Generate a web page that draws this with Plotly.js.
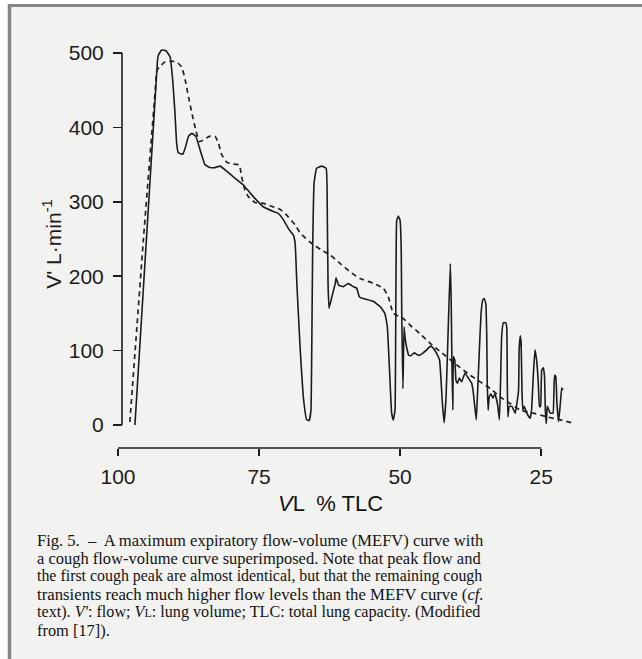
<!DOCTYPE html>
<html>
<head>
<meta charset="utf-8">
<script src="https://cdn.plot.ly/plotly-3.0.1.min.js"></script>
<style>html,body{margin:0;padding:0;background:#fff;}#chart{width:642px;height:659px;}</style>
</head>
<body>
<div id="chart"></div>
<script>
// Cough flow-volume curve (solid): lung volume (% TLC) and flow (L/min)
var coughVolume = [97.0,93.0,92.85,92.26,91.49,90.78,90.3,89.9,89.6,89.3,88.5,88.1,87.5,86.93,86.2,85.46,84.6,83.7,82.8,81.9,80.7,79.3,77.8,76.6,75.4,74.2,72.45,71.6,70.7,69.8,68.9,68.6,68.3,67.7,67.1,66.55,66.1,65.8,65.66,65.5,65.25,64.8,63.9,63.1,62.9,62.77,62.6,62.1,61.5,61.35,60.9,60.05,59.2,58.3,57.7,57.2,56.5,54.7,53.5,52.7,52.26,51.9,51.5,51.2,50.9,50.8,50.7,50.6,50.3,50.0,49.8,49.7,49.5,49.3,49.1,48.8,48.5,48.1,47.5,46.75,46.0,45.3,44.6,44.1,43.5,43.0,42.5,42.2,41.85,41.5,41.1,40.95,40.8,40.65,40.55,40.3,40.1,39.85,39.5,39.1,38.5,37.9,37.3,37.0,36.5,36.3,35.95,35.65,35.35,35.1,34.8,34.65,34.55,34.4,34.2,33.9,33.55,33.2,32.75,32.4,32.2,32.0,31.7,31.3,31.1,31.0,30.9,30.65,30.2,29.6,29.3,29.0,28.9,28.7,28.55,28.4,28.25,28.0,27.55,26.95,26.7,26.4,26.1,25.8,25.5,25.3,25.1,24.9,24.6,24.4,24.25,24.1,23.9,23.4,22.9,22.7,22.6,22.4,22.2,21.9,21.6,21.35,21.15];
var coughFlow = [0,490,497,504,503,495,463,419,378,366,364,372,388,392,388,370,350,346,346,348,341,332,323,312,302,293,287,284.5,276,264,255,244,190,101,34,7,6,20,101,235,325,345,348,345,280,190,157,172,190,198,188,186,190,186,184,172,170,166,159,150,132,78,16,6.7,20,101,235,275,281,275,235,146,49,132,116,103,94,93,97,93.5,96.4,101,106,103,96,87,29,3,38,123,217,168,78,20,92,87,60,56,63,58,70,63,56,42,7,38,101,150,168,170,163,123,56,20,38,42,36,42,29,7,56,119,137.5,137.5,132,56,11,25,25,16,29,47,101,120,110,47,20,25,16,9,20,65,101,87,56,25,25,74,77,65,20,2,25,16,16,56,67,65,29,4.5,29,50,47];

// MEFV curve (dashed)
var mefvVolume = [97.9,95.5,93.4,93.1,92.55,91.7,90.6,89.6,88.7,88.1,87.5,86.9,86.2,85.6,84.9,83.8,82.8,82.2,81.6,80.7,79.8,78.5,78.1,77.5,76.9,75.7,74.2,72.8,71.3,70.1,68.6,67.7,66.0,63.9,62.4,60.6,58.9,57.1,54.7,53.0,52.1,51.2,49.4,48.2,46.5,44.7,42.6,40.0,37.6,35.8,34.0,32.3,30.5,28.7,26.4,24.0,21.6,19.6];
var mefvFlow = [4,249,450,477,482,488,489,488,481,464,441,419,396,381,383,388,388,379,363,353,351,349.5,334,316,307,299,298,294,290,282,269,258,246,235,228.5,217,206,197,190.5,184,172.5,150,143,134,123,110,97,81,67,58,49,38,29,20,16,11,7,3];

var xTickVals = [100, 75, 50, 25];
var yTickVals = [0, 100, 200, 300, 400, 500];

var captionLines = [
  "Fig. 5.  –  A maximum expiratory flow-volume (MEFV) curve with",
  "a cough flow-volume curve superimposed. Note that peak flow and",
  "the first cough peak are almost identical, but that the remaining cough",
  "transients reach much higher flow levels than the MEFV curve (<i>cf.</i>",
  "text). <i>V'</i>: flow; <i>V</i><span style='font-size:12px'>L</span>: lung volume; TLC: total lung capacity. (Modified",
  "from [17])."
];

// page geometry (pixels)
var W = 642, H = 659, L = 118, R = 67, T = 40, B = 211;
var plotW = W - L - R, plotH = H - T - B;
function px(x) { return (x - L) / plotW; }
function py(y) { return (H - B - y) / plotH; }

var annotations = [];
var lineY = [540, 558, 576, 594, 612, 630];
var lineSize = [16.56, 16.48, 15.91, 16.75, 16.15, 16.4];
captionLines.forEach(function (t, i) {
  annotations.push({
    text: t, xref: 'paper', yref: 'paper', x: px(35), y: py(lineY[i]),
    xanchor: 'left', yanchor: 'middle', showarrow: false, align: 'left',
    font: {family: 'Liberation Serif, Times New Roman, serif', size: lineSize[i], color: '#141414'}
  });
});
annotations.push({
  text: "<i>V</i>L  % TLC", xref: 'paper', yref: 'paper', x: px(330), y: py(503),
  xanchor: 'center', yanchor: 'middle', showarrow: false,
  font: {family: 'Liberation Sans Narrow, Liberation Sans, Arial, sans-serif', size: 22, color: '#141414'}
});

var yAxisPos = px(122);

var shapes = [
  // scanned page frame
  {type: 'rect', xref: 'paper', yref: 'paper', x0: px(0), x1: px(8), y0: py(0), y1: py(H), fillcolor: '#ffffff', line: {width: 0}, layer: 'below'},
  {type: 'rect', xref: 'paper', yref: 'paper', x0: px(0), x1: px(W), y0: py(0), y1: py(4), fillcolor: '#ffffff', line: {width: 0}, layer: 'below'},
  {type: 'line', xref: 'paper', yref: 'paper', x0: px(8), x1: px(W), y0: py(5.5), y1: py(5.5), line: {color: '#858585', width: 3}},
  {type: 'line', xref: 'paper', yref: 'paper', x0: px(9.5), x1: px(9.5), y0: py(4), y1: py(H), line: {color: '#858585', width: 3.5}},
  // axis lines limited to the labelled span
  {type: 'line', xref: 'paper', yref: 'y', x0: yAxisPos, x1: yAxisPos, y0: 0, y1: 500, line: {color: '#1c1c1c', width: 1.6}},
  {type: 'line', xref: 'x', yref: 'paper', x0: 100, x1: 25, y0: 0, y1: 0, line: {color: '#1c1c1c', width: 1.6}}
];

var traces = [
  {x: mefvVolume, y: mefvFlow, type: 'scatter', mode: 'lines', name: 'MEFV',
   line: {color: '#222222', width: 1.7, dash: '5px,4px', shape: 'spline', smoothing: 0.4}, hoverinfo: 'skip'},
  {x: coughVolume, y: coughFlow, type: 'scatter', mode: 'lines', name: 'Cough',
   line: {color: '#1c1c1c', width: 1.6, shape: 'spline', smoothing: 0.3}, hoverinfo: 'skip'}
];

var layout = {
  width: W, height: H,
  margin: {l: L, r: R, t: T, b: B},
  paper_bgcolor: '#f2f2f0', plot_bgcolor: 'rgba(0,0,0,0)',
  showlegend: false,
  font: {family: 'Liberation Sans Narrow, Liberation Sans, Arial, sans-serif', color: '#1c1c1c'},
  xaxis: {
    range: [100, 19], showgrid: false, zeroline: false, showline: false,
    tickvals: xTickVals, ticktext: xTickVals.map(String), ticks: 'outside', ticklen: 7, tickwidth: 1.6, tickcolor: '#1c1c1c',
    ticklabelstandoff: 3,
    tickfont: {size: 21, color: '#1c1c1c'}
  },
  yaxis: {
    range: [-30.9, 517.5], showgrid: false, zeroline: false, showline: false,
    anchor: 'free', position: yAxisPos,
    tickvals: yTickVals, ticktext: yTickVals.map(String), ticks: 'outside', ticklen: 9, tickwidth: 1.6, tickcolor: '#1c1c1c',
    ticklabelstandoff: 5,
    tickfont: {size: 21, color: '#1c1c1c'},
    title: {text: "V' L·min<sup>-1</sup>", font: {size: 21, color: '#1c1c1c'}, standoff: 0}
  },
  shapes: shapes,
  annotations: annotations
};

Plotly.newPlot('chart', traces, layout, {displayModeBar: false, staticPlot: true});
</script>
</body>
</html>
